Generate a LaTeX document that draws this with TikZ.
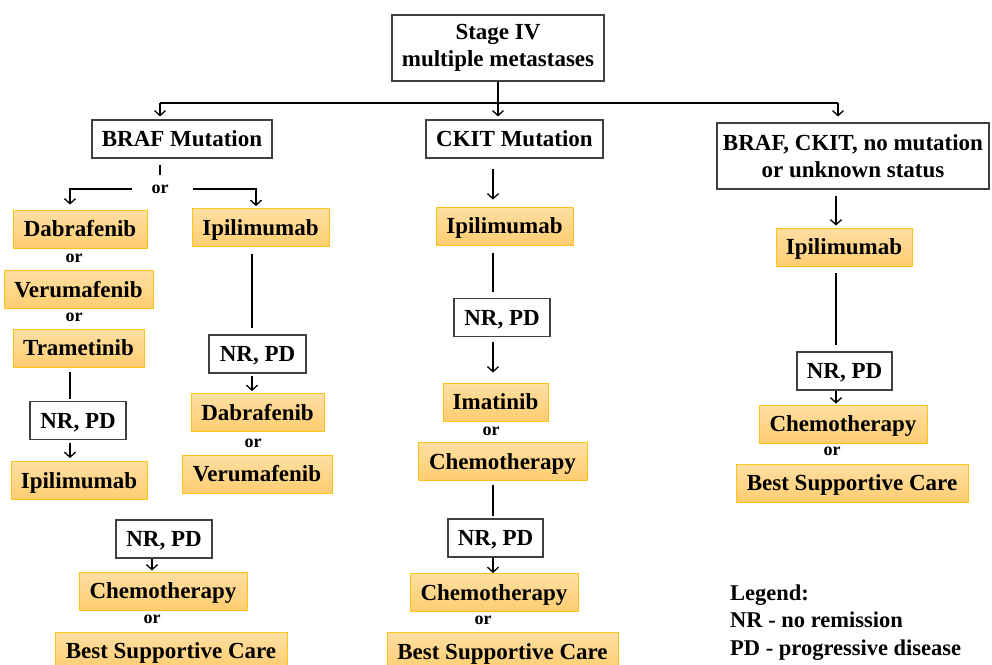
\documentclass[tikz,border=0pt]{standalone}
\usepackage{fontspec}
\setmainfont{Liberation Serif}
\usepackage{xcolor}
\usetikzlibrary{arrows.meta,positioning}
\definecolor{DrugTop}{HTML}{FFDFA3}
\definecolor{DrugBottom}{HTML}{FFCD70}
\definecolor{DrugEdge}{HTML}{FFC21A}
\definecolor{FrameGray}{HTML}{404040}

\begin{document}
\begin{tikzpicture}[
  x=1pt, y=-1pt,
  frame/.style={draw=FrameGray, line width=1.1pt, fill=white, inner sep=0pt, align=center, font=\bfseries\fontsize{23}{27}\selectfont},
  box/.style={frame, minimum height=38, text height=18.5pt, text depth=3.4pt},
  drug/.style={box, draw=DrugEdge, line width=0.9pt, top color=DrugTop, bottom color=DrugBottom},
  orword/.style={inner sep=0pt, font=\bfseries\fontsize{18}{20}\selectfont},
  legend/.style={inner sep=0pt, anchor=base west, font=\bfseries\fontsize{22.5}{26}\selectfont},
  arrow/.style={-{Straight Barb[length=5pt, width=11pt]}, line width=1.3pt},
  link/.style={line width=1.3pt}
]
  \useasboundingbox (0,0) rectangle (992,664);

  \node[frame, minimum width=212, minimum height=66] (stage) at (498,48) {Stage IV\\multiple metastases};
  \node[box, minimum width=180] (braf) at (182,139) {BRAF Mutation};
  \node[box, minimum width=177] (ckit) at (514.5,139) {CKIT Mutation};
  \node[frame, minimum width=272, minimum height=66] (none) at (853,156) {BRAF, CKIT, no mutation\\or unknown status};

  \coordinate (hubL) at (160,103);
  \coordinate (hubR) at (838,103);
  \coordinate (colA) at (70,0);
  \coordinate (colR) at (256,0);
  \coordinate (colB) at (252,0);
  \coordinate (colE) at (152,0);
  \coordinate (colC) at (493,0);
  \coordinate (colD) at (836,0);

  % BRAF branch
  \node[orword] (brafor) at (160,189) {or};
  \node[drug, minimum width=134] (dab1) at (80,229) {Dabrafenib};
  \node[orword] (or1) at (74,258) {or};
  \node[drug, minimum width=149] (veru1) at (78.5,289.5) {Verumafenib};
  \node[orword] (or2) at (74,317) {or};
  \node[drug, minimum width=131] (tram) at (78.5,348) {Trametinib};
  \node[box, minimum width=96] (nr1) at (78,420.5) {NR, PD};
  \node[drug, minimum width=136] (ipi2) at (79,480.5) {Ipilimumab};

  \node[drug, minimum width=137] (ipi1) at (260.5,227.5) {Ipilimumab};
  \node[box, minimum width=97] (nr2) at (257.5,354) {NR, PD};
  \node[drug, minimum width=133] (dab2) at (257.5,412.5) {Dabrafenib};
  \node[orword] (or3) at (253,443) {or};
  \node[drug, minimum width=150] (veru2) at (257,474) {Verumafenib};

  \node[box, minimum width=96] (nr3) at (164,539) {NR, PD};
  \node[drug, minimum width=168] (chemo1) at (163,591) {Chemotherapy};
  \node[orword] (or4) at (152,619) {or};
  \node[drug, minimum width=232] (bsc1) at (171,651) {Best Supportive Care};

  % CKIT branch
  \node[drug, minimum width=137] (ipi3) at (504.5,226) {Ipilimumab};
  \node[box, minimum width=96] (nr4) at (502,317.5) {NR, PD};
  \node[drug, minimum width=105] (ima) at (495.5,402) {Imatinib};
  \node[orword] (or5) at (491,431) {or};
  \node[drug, minimum width=169] (chemo2) at (502.5,461.5) {Chemotherapy};
  \node[box, minimum width=95] (nr5) at (495.5,538) {NR, PD};
  \node[drug, minimum width=168] (chemo3) at (494,592.5) {Chemotherapy};
  \node[orword] (or6) at (483,620) {or};
  \node[drug, minimum width=231] (bsc2) at (502.5,651.5) {Best Supportive Care};

  % no mutation branch
  \node[drug, minimum width=136] (ipi4) at (844,247) {Ipilimumab};
  \node[box, minimum width=95] (nr6) at (844.5,371) {NR, PD};
  \node[drug, minimum width=168] (chemo4) at (843,424) {Chemotherapy};
  \node[orword] (or7) at (832,451) {or};
  \node[drug, minimum width=232] (bsc3) at (852,483) {Best Supportive Care};

  \node[legend] (leg1) at (730,600) {Legend:};
  \node[legend] (leg2) at (730,627.5) {NR - no remission};
  \node[legend] (leg3) at (730,655) {PD - progressive disease};

  \draw[arrow, shorten >=3pt] (stage.south) -- (stage.south |- ckit.north);
  \draw[link] (hubL) -- (hubR);
  \draw[arrow, shorten >=3pt] (hubL) -- (hubL |- braf.north);
  \draw[arrow, shorten >=6pt] (hubR) -- (hubR |- none.north);

  \draw[link] ([yshift=-6pt]braf.south -| brafor) -- ([yshift=9pt]brafor.north);
  \draw[arrow, shorten >=5pt] ([xshift=-28pt]brafor.center) -| (colA |- dab1.north);
  \draw[arrow, shorten >=2pt] ([xshift=33pt]brafor.center) -| (colR |- ipi1.north);
  \draw[link, shorten <=5pt, shorten >=2pt] (colA |- tram.south) -- (colA |- nr1.north);
  \draw[arrow, shorten <=3pt, shorten >=3pt] (colA |- nr1.south) -- (colA |- ipi2.north);
  \draw[link, shorten <=7pt, shorten >=6pt] (colB |- ipi1.south) -- (colB |- nr2.north);
  \draw[arrow, shorten <=2pt, shorten >=2pt] (colB |- nr2.south) -- (colB |- dab2.north);
  \draw[arrow, shorten >=1pt] (colE |- nr3.south) -- (colE |- chemo1.north);

  \draw[arrow, shorten <=10pt, shorten >=7pt] (colC |- ckit.south) -- (colC |- ipi3.north);
  \draw[link, shorten <=8pt, shorten >=6pt] (colC |- ipi3.south) -- (colC |- nr4.north);
  \draw[arrow, shorten <=5pt, shorten >=10pt] (colC |- nr4.south) -- (colC |- ima.north);
  \draw[link, shorten <=4pt, shorten >=2pt] (colC |- chemo2.south) -- (colC |- nr5.north);
  \draw[arrow] (colC |- nr5.south) -- (colC |- chemo3.north);

  \draw[arrow, shorten <=6pt, shorten >=2pt] (colD |- none.south) -- (colD |- ipi4.north);
  \draw[link, shorten <=7pt, shorten >=6pt] (colD |- ipi4.south) -- (colD |- nr6.north);
  \draw[arrow, shorten >=1pt] (colD |- nr6.south) -- (colD |- chemo4.north);
\end{tikzpicture}
\end{document}
